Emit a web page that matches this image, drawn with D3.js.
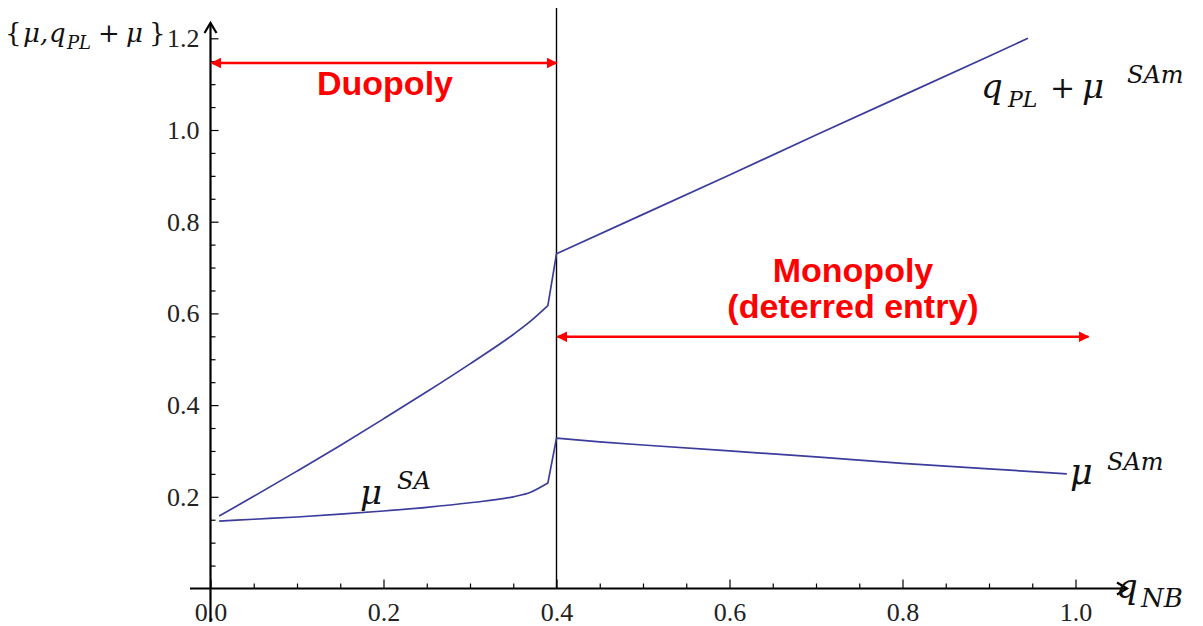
<!DOCTYPE html>
<html>
<head>
<meta charset="utf-8">
<script src="https://cdn.jsdelivr.net/npm/d3@7"></script>
<style>
	body { margin: 0; background: #fff; }
	svg { display: block; }
</style>
</head>
<body>
<svg id="chart" width="1203" height="626"></svg>
<script>
'use strict';

// tick labels
var xTicks = [0, 0.2, 0.4, 0.6, 0.8, 1.0];
var yTicks = [0.2, 0.4, 0.6, 0.8, 1.0, 1.2];

// q_PL + mu (upper curve)
var upperX = [0.01, 0.05, 0.10, 0.15, 0.20, 0.25, 0.30, 0.35, 0.37, 0.39, 0.40, 0.50, 0.60, 0.70, 0.80, 0.90, 0.945];
var upperY = [0.158, 0.201, 0.256, 0.312, 0.370, 0.429, 0.490, 0.554, 0.583, 0.617, 0.730, 0.816, 0.902, 0.989, 1.075, 1.161, 1.200];

// mu (lower curve)
var lowerX = [0.01, 0.05, 0.10, 0.15, 0.20, 0.25, 0.30, 0.35, 0.37, 0.39, 0.40, 0.45, 0.50, 0.60, 0.70, 0.80, 0.90, 0.99];
var lowerY = [0.147, 0.151, 0.156, 0.162, 0.169, 0.177, 0.187, 0.200, 0.210, 0.230, 0.328, 0.320, 0.313, 0.300, 0.287, 0.273, 0.261, 0.250];

// index of the last duopoly sample (smooth part ends here, jump is a straight segment)
var DUO_END = 9;

// regime boundary and regime arrows
var boundaryX = 0.4;
var regimeNames = [["Duopoly"], ["Monopoly", "(deterred entry)"]];
var regimeFrom = [0, 0.4];
var regimeTo = [0.4, 1.015];
var regimeArrowY = [1.146, 0.549];

var CURVE_COLOR = "#3c3c9c";
var RED = "#ff0000";
var MATH_FONT = "'DejaVu Serif', 'Liberation Serif', serif";

var svg = d3.select("#chart");

var x = d3.scaleLinear().domain([0, 1]).range([210.5, 1075.5]);
var y = d3.scaleLinear().domain([0, 1.2]).range([588.5, 38.3]);

var defs = svg.append("defs");
defs.append("marker")
	.attr("id", "redHead")
	.attr("viewBox", "0 0 10 10")
	.attr("refX", 9)
	.attr("refY", 5)
	.attr("markerWidth", 4.4)
	.attr("markerHeight", 4.4)
	.attr("markerUnits", "strokeWidth")
	.attr("orient", "auto-start-reverse")
	.append("path")
	.attr("d", "M0,0 L10,5 L0,10 Z")
	.style("fill", RED);

// minor ticks (every 0.05)
function notMajor(d) {
	return Math.abs(d * 5 - Math.round(d * 5)) > 1e-6;
}
var xMinor = d3.range(0.05, 1.0001, 0.05).filter(notMajor);
var yMinor = d3.range(0.05, 1.1501, 0.05).filter(notMajor);

var fmt = d3.format(".1f");

// y axis
var yAxisG = svg.append("g")
	.attr("transform", "translate(" + x(0) + ",0)")
	.call(d3.axisLeft(y).tickValues(yTicks).tickFormat(fmt).tickSizeInner(-8).tickSizeOuter(0).tickPadding(11));
svg.append("g")
	.attr("transform", "translate(" + x(0) + ",0)")
	.call(d3.axisLeft(y).tickValues(yMinor).tickFormat("").tickSizeInner(-5).tickSizeOuter(0));

// x axis
svg.append("g")
	.attr("transform", "translate(0," + y(0) + ")")
	.call(d3.axisBottom(x).tickValues(xTicks).tickFormat(fmt).tickSizeInner(-9).tickSizeOuter(0).tickPadding(14));
svg.append("g")
	.attr("transform", "translate(0," + y(0) + ")")
	.call(d3.axisBottom(x).tickValues(xMinor).tickFormat("").tickSizeInner(-5).tickSizeOuter(0));

svg.selectAll(".domain").remove();
svg.selectAll(".tick line").style("stroke", "#000").style("stroke-width", 1.2);
svg.selectAll(".tick text")
	.style("font-family", "'Liberation Serif', 'Times New Roman', serif")
	.style("font-size", "26px")
	.style("fill", "#222");
yAxisG.selectAll(".tick text").attr("dy", "0.33em");

// axis lines with open arrow heads
svg.append("line")
	.attr("x1", x(0)).attr("x2", x(0))
	.attr("y1", 622).attr("y2", 23)
	.style("stroke", "#000").style("stroke-width", 2.2);
svg.append("path")
	.attr("d", "M" + (x(0) - 6) + ",33 L" + x(0) + ",23 L" + (x(0) + 6) + ",33")
	.style("fill", "none").style("stroke", "#000").style("stroke-width", 2.2);

svg.append("line")
	.attr("x1", 190).attr("x2", 1127)
	.attr("y1", y(0)).attr("y2", y(0))
	.style("stroke", "#000").style("stroke-width", 2.2);
svg.append("path")
	.attr("d", "M1117," + (y(0) - 6) + " L1127," + y(0) + " L1117," + (y(0) + 6))
	.style("fill", "none").style("stroke", "#000").style("stroke-width", 2.2);

// regime boundary
svg.append("line")
	.attr("x1", x(boundaryX)).attr("x2", x(boundaryX))
	.attr("y1", 8).attr("y2", y(0))
	.style("stroke", "#000").style("stroke-width", 1.4);

// curves: smooth through the duopoly samples, straight from there on
var smoothLine = d3.line()
	.curve(d3.curveMonotoneX)
	.x(function (d) { return x(d[0]); })
	.y(function (d) { return y(d[1]); });
var straightLine = d3.line()
	.x(function (d) { return x(d[0]); })
	.y(function (d) { return y(d[1]); });

function drawCurve(xs, ys) {
	var pts = d3.zip(xs, ys);
	var d = smoothLine(pts.slice(0, DUO_END + 1)) +
		straightLine(pts.slice(DUO_END)).replace(/^M/, "L");
	svg.append("path")
		.attr("d", d)
		.style("fill", "none")
		.style("stroke", CURVE_COLOR)
		.style("stroke-width", 1.7)
		.style("stroke-linejoin", "round");
}
drawCurve(upperX, upperY);
drawCurve(lowerX, lowerY);

// regime arrows
regimeNames.forEach(function (names, i) {
	var ay = y(regimeArrowY[i]);
	svg.append("line")
		.attr("x1", x(regimeFrom[i]) + 1).attr("x2", x(regimeTo[i]))
		.attr("y1", ay).attr("y2", ay)
		.attr("marker-start", "url(#redHead)")
		.attr("marker-end", "url(#redHead)")
		.style("stroke", RED).style("stroke-width", 2.5);
});

// regime names, one text per regime
function redText(lines, cx, by) {
	var t = svg.append("text")
		.attr("text-anchor", "middle")
		.style("font-family", "'Liberation Sans', Arial, sans-serif")
		.style("font-weight", "bold")
		.style("font-size", "34px")
		.style("fill", RED);
	lines.forEach(function (s, i) {
		t.append("tspan")
			.attr("x", cx)
			.attr("y", by + i * 36)
			.text(s);
	});
}
redText(regimeNames[0], 385, 95);
redText(regimeNames[1], 853, 282);

// math labels: [text, x, baseline, size, italic], one text element each
function mathLabel(parts) {
	var t = svg.append("text")
		.style("font-family", MATH_FONT)
		.style("fill", "#111");
	parts.forEach(function (p) {
		t.append("tspan")
			.attr("x", p[1]).attr("y", p[2])
			.style("font-style", p[4] ? "italic" : "normal")
			.style("font-size", p[3] + "px")
			.text(p[0]);
	});
}

// y axis title {mu, q_PL + mu}
mathLabel([
	["{", 5, 42, 26, false],
	["\u03bc,", 23, 42, 26, true],
	["q", 49, 42, 26, true],
	["PL", 67, 49, 18, true],
	["+", 98, 42, 26, false],
	["\u03bc", 126, 42, 26, true],
	["}", 149, 42, 26, false]
]);

// q_PL + mu^SAm
mathLabel([
	["q", 981, 98, 34, true],
	["PL", 1008, 107, 22, true],
	["+", 1050, 98, 30, false],
	["\u03bc", 1082, 98, 34, true],
	["SAm", 1127, 83, 24, true]
]);

// mu^SAm
mathLabel([
	["\u03bc", 1070, 484, 35, true],
	["SAm", 1107, 470, 24, true]
]);

// mu^SA
mathLabel([
	["\u03bc", 360, 504, 34, true],
	["SA", 397, 489, 24, true]
]);

// q_NB
mathLabel([
	["q", 1116, 598, 34, true],
	["NB", 1141, 607, 26, true]
]);
</script>
</body>
</html>
